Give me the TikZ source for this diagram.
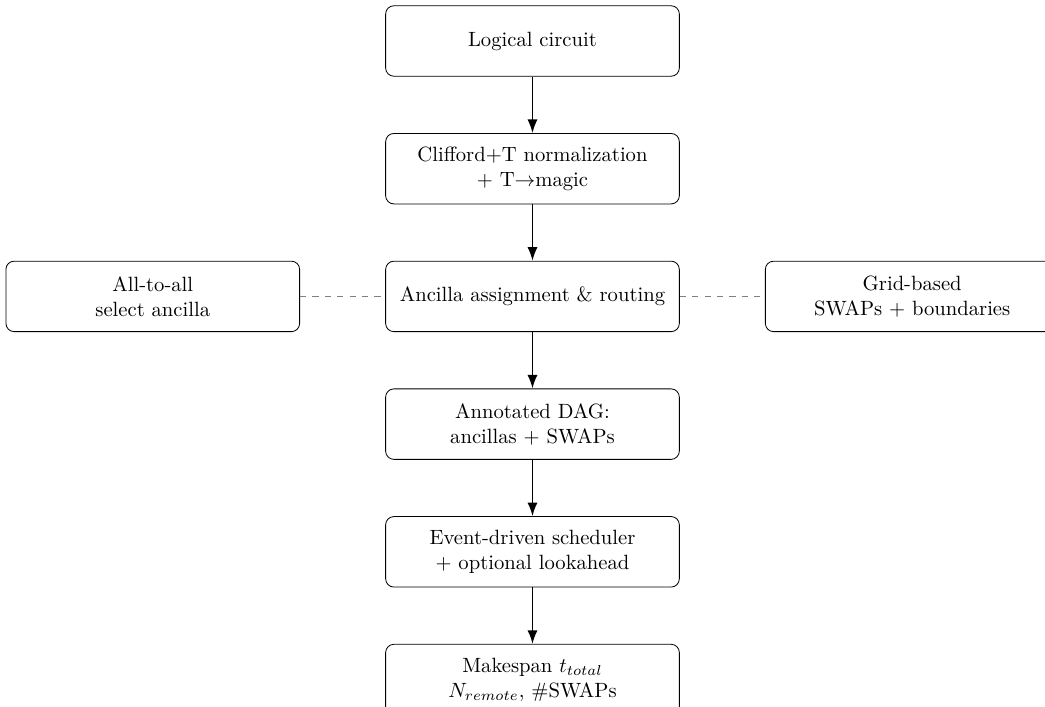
\documentclass[tikz,border=0pt]{standalone}
\usetikzlibrary{positioning,arrows.meta}
\begin{document}
\begin{tikzpicture}[
		stage/.style={draw, rounded corners, minimum width=5cm, minimum height=1.2cm, align=center},
		flow/.style={-{Latex}, thick},
		alt/.style={dashed, gray}
	]
		\useasboundingbox (0,0) rectangle (17.79,-12.02);
		
		\node[stage] (logical) at (9.065,-0.698) {Logical circuit};
		\node[stage, below=0.96cm of logical] (clifford) {Clifford+T normalization\\+ T$\to$magic};
		\node[stage, below=0.96cm of clifford] (ancilla) {Ancilla assignment \& routing};
		\node[stage, below=0.96cm of ancilla] (dag) {Annotated DAG:\\ancillas + SWAPs};
		\node[stage, below=0.96cm of dag] (sched) {Event-driven scheduler\\+ optional lookahead};
		\node[stage, below=0.96cm of sched] (result) {Makespan $t_{total}$\\$N_{remote}$, \#SWAPs};
		
		\node[stage, left=1.45cm of ancilla] (alltoall) {All-to-all\\select ancilla};
		\node[stage, right=1.45cm of ancilla] (grid) {Grid-based\\SWAPs + boundaries};
		
		\draw[flow] (logical) -- (clifford);
		\draw[flow] (clifford) -- (ancilla);
		\draw[flow] (ancilla) -- (dag);
		\draw[flow] (dag) -- (sched);
		\draw[flow] (sched) -- (result);
		
		\draw[alt] (alltoall) -- (ancilla);
		\draw[alt] (ancilla) -- (grid);
	\end{tikzpicture}
\end{document}
